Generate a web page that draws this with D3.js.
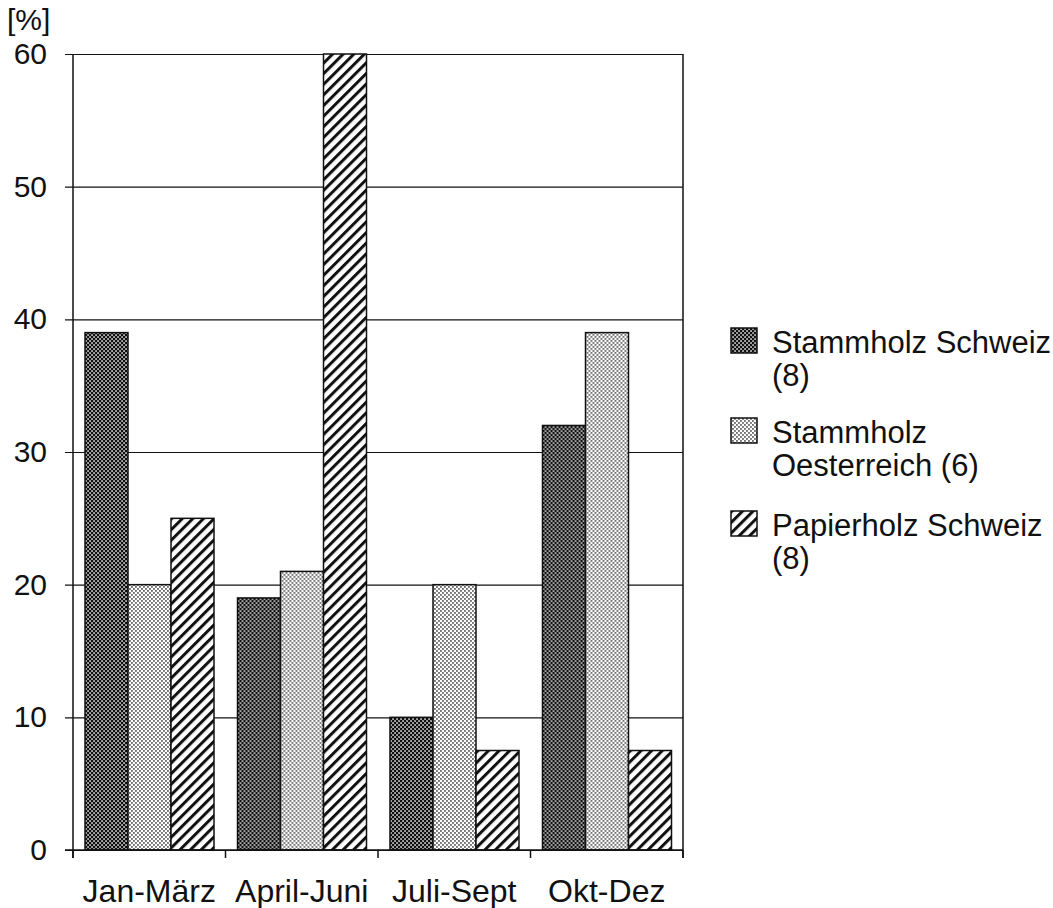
<!DOCTYPE html>
<html>
<head>
<meta charset="utf-8">
<script src="https://cdn.jsdelivr.net/npm/d3@7"></script>
<style>
  html, body { margin: 0; padding: 0; background: #fff; }
  svg { display: block; font-family: "Liberation Sans", Arial, Helvetica, sans-serif; }
</style>
</head>
<body>
<svg id="chart" width="1053" height="908"></svg>
<script>
const categories = ["Jan-März", "April-Juni", "Juli-Sept", "Okt-Dez"];
const seriesNames = ["Stammholz Schweiz (8)", "Stammholz Oesterreich (6)", "Papierholz Schweiz (8)"];
const legendLines = [["Stammholz Schweiz", "(8)"], ["Stammholz", "Oesterreich (6)"], ["Papierholz Schweiz", "(8)"]];
const stammholzSchweiz = [39, 19, 10, 32];
const stammholzOesterreich = [20, 21, 20, 39];
const papierholzSchweiz = [25, 60, 7.5, 7.5];
const yTicks = [0, 10, 20, 30, 40, 50, 60];
const yUnit = "[%]";

(function () {
const seriesValues = [stammholzSchweiz, stammholzOesterreich, papierholzSchweiz];
const patternIds = ["pDark", "pLight", "pHatch"];

const svg = d3.select("#chart");
const defs = svg.append("defs");

// dark checker: black with white dots
const pd = defs.append("pattern").attr("id", "pDark").attr("patternUnits", "userSpaceOnUse")
  .attr("width", 4).attr("height", 4);
pd.append("rect").attr("width", 4).attr("height", 4).attr("fill", "#111");
pd.append("rect").attr("x", 0.3).attr("y", 0.3).attr("width", 1.5).attr("height", 1.5).attr("fill", "#fff");
pd.append("rect").attr("x", 2.3).attr("y", 2.3).attr("width", 1.5).attr("height", 1.5).attr("fill", "#fff");

// light dots: white with black dots
const pl = defs.append("pattern").attr("id", "pLight").attr("patternUnits", "userSpaceOnUse")
  .attr("width", 4).attr("height", 4);
pl.append("rect").attr("width", 4).attr("height", 4).attr("fill", "#fff");
pl.append("rect").attr("x", 0.2).attr("y", 0.2).attr("width", 1.5).attr("height", 1.5).attr("fill", "#222");
pl.append("rect").attr("x", 2.2).attr("y", 2.2).attr("width", 1.5).attr("height", 1.5).attr("fill", "#222");

// hatch "/"
const ph = defs.append("pattern").attr("id", "pHatch").attr("patternUnits", "userSpaceOnUse")
  .attr("width", 7.5).attr("height", 7.5).attr("patternTransform", "rotate(45)");
ph.append("rect").attr("width", 7.5).attr("height", 7.5).attr("fill", "#fff");
ph.append("rect").attr("x", 0).attr("y", 0).attr("width", 3).attr("height", 7.5).attr("fill", "#111");

const pLeft = 73, pRight = 683, pTop = 54, pBottom = 850;

const x0 = d3.scaleBand().domain(categories).range([pLeft, pRight]).padding(0);
const x1 = d3.scaleBand().domain(d3.range(seriesNames.length)).range([12, x0.bandwidth() - 11.5]).padding(0);
const y = d3.scaleLinear().domain([0, 60]).range([pBottom, pTop]);

// grid + y tick labels
const yAxis = d3.axisLeft(y).tickValues(yTicks).tickSize(pRight - 65).tickPadding(18).tickFormat(d3.format("d"));
const gy = svg.append("g").attr("transform", `translate(${pRight},0)`).call(yAxis);
gy.select(".domain").remove();
gy.selectAll("line").attr("stroke", "#111").attr("stroke-width", 1.2);
gy.selectAll("text").attr("font-size", 30).attr("fill", "#111").attr("font-family", "Liberation Sans, Arial, sans-serif");

// bars
const groups = svg.append("g").selectAll("g").data(categories).join("g")
  .attr("transform", d => `translate(${x0(d)},0)`);
groups.selectAll("rect")
  .data((c, ci) => seriesValues.map((vals, si) => ({ si, v: vals[ci] })))
  .join("rect")
  .attr("x", d => x1(d.si))
  .attr("y", d => y(d.v))
  .attr("width", x1.bandwidth())
  .attr("height", d => y(0) - y(d.v))
  .attr("fill", d => `url(#${patternIds[d.si]})`)
  .attr("stroke", "#111")
  .attr("stroke-width", 1.5);

// axes lines
svg.append("line").attr("x1", pLeft).attr("x2", pLeft).attr("y1", pTop).attr("y2", pBottom + 8)
  .attr("stroke", "#111").attr("stroke-width", 1.5);
svg.append("line").attr("x1", pRight).attr("x2", pRight).attr("y1", pTop).attr("y2", pBottom + 8)
  .attr("stroke", "#111").attr("stroke-width", 1.5);
svg.append("line").attr("x1", 65).attr("x2", pRight).attr("y1", pBottom).attr("y2", pBottom)
  .attr("stroke", "#111").attr("stroke-width", 1.5);

// x boundary ticks
const boundaries = categories.map(c => x0(c)).concat([x0.range()[1]]);
svg.append("g").selectAll("line").data(boundaries).join("line")
  .attr("x1", d => d).attr("x2", d => d).attr("y1", pBottom).attr("y2", pBottom + 8)
  .attr("stroke", "#111").attr("stroke-width", 1.5);

// x labels
const xAxis = d3.axisBottom(x0).tickSize(0).tickPadding(29);
const gx = svg.append("g").attr("transform", `translate(0,${pBottom})`).call(xAxis);
gx.select(".domain").remove();
gx.selectAll("text").attr("font-size", 32).attr("fill", "#111").attr("font-family", "Liberation Sans, Arial, sans-serif");

// unit label
svg.append("text").attr("x", 7).attr("y", 30).attr("font-size", 30).attr("fill", "#111").text(yUnit);

// legend
const legendBase = [353, 443, 536];
const lg = svg.append("g").selectAll("g").data(seriesNames).join("g");
lg.append("rect")
  .attr("x", 731).attr("y", (d, i) => legendBase[i] - 25)
  .attr("width", 26).attr("height", 25)
  .attr("fill", (d, i) => `url(#${patternIds[i]})`)
  .attr("stroke", "#111").attr("stroke-width", 1.5);
lg.each(function (d, i) {
  const g = d3.select(this);
  legendLines[i].forEach((t, k) => {
    g.append("text").attr("x", 772).attr("y", legendBase[i] + k * 33)
      .attr("font-size", 31).attr("fill", "#111").text(t);
  });
});
})();
</script>
</body>
</html>
